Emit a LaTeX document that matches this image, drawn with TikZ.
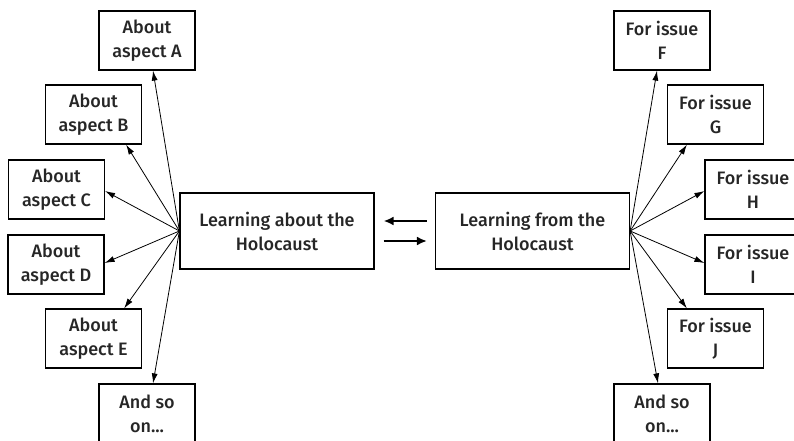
\documentclass[tikz,border=0pt]{standalone}
\usepackage{fontspec}
\setmainfont{Fira Sans}[UprightFont=* Medium]
\usetikzlibrary{positioning,arrows.meta,calc}

\begin{document}
\begin{tikzpicture}[x=1pt,y=-1pt,
    every node/.style={font=\fontsize{18}{24}\selectfont, align=center, text=black!85},
    aspectbox/.style={draw, rectangle, line width=1.2pt, minimum width=96pt, minimum height=59pt, inner sep=0pt},
    mainbox/.style={draw, rectangle, line width=1.2pt, minimum width=194pt, minimum height=76pt, inner sep=0pt},
    fan/.style={-{Latex[length=10pt,width=6pt]}, line width=0.8pt},
    swap/.style={-{Latex[length=10pt,width=9pt]}, line width=2.2pt}]
    \clip (0,0) rectangle (794,441);
    % central boxes
    \node[mainbox](learnabout) at (277,231){Learning about the\\Holocaust};
    \node[mainbox](learnfrom) at (532.5,231){Learning from the\\Holocaust};
    \draw[swap]($(learnfrom.west)+(-8,-10)$)--($(learnabout.east)+(9,-10)$);
    \draw[swap]($(learnabout.east)+(9,10)$)--($(learnfrom.west)+(-8,10)$);
    % aspects on the left
    \node[aspectbox](aspecta) at (147,40.5){About\\aspect A};
    \node[aspectbox](aspectb) at (93.5,114.5){About\\aspect B};
    \node[aspectbox](aspectc) at (56.5,189.5){About\\aspect C};
    \node[aspectbox](aspectd) at (56,264.5){About\\aspect D};
    \node[aspectbox](aspecte) at (93.5,338.5){About\\aspect E};
    \node[aspectbox](aboutmore) at (147,413.5){And so\\on...};
    \draw[fan](learnabout.west)--($(aspecta.south)+(6,0)$);
    \draw[fan](learnabout.west)--($(aspectb.south east)+(-16,0)$);
    \draw[fan](learnabout.west)--($(aspectc.east)+(0,1.5)$);
    \draw[fan](learnabout.west)--($(aspectd.east)+(0,-1.5)$);
    \draw[fan](learnabout.west)--($(aspecte.north east)+(-18,0)$);
    \draw[fan](learnabout.west)--($(aboutmore.north)+(6,0)$);
    % issues on the right
    \node[aspectbox](issuef) at (662,40.5){For issue\\F};
    \node[aspectbox](issueg) at (715.5,114.5){For issue\\G};
    \node[aspectbox](issueh) at (753,189.5){For issue\\H};
    \node[aspectbox](issuei) at (753,264.5){For issue\\I};
    \node[aspectbox](issuej) at (715.5,338.5){For issue\\J};
    \node[aspectbox](frommore) at (662,413.5){And so\\on...};
    \draw[fan](learnfrom.east)--($(issuef.south)+(-5,0)$);
    \draw[fan](learnfrom.east)--($(issueg.south west)+(20,0)$);
    \draw[fan](learnfrom.east)--($(issueh.west)+(0,1.5)$);
    \draw[fan](learnfrom.east)--($(issuei.west)+(0,-1.5)$);
    \draw[fan](learnfrom.east)--($(issuej.north west)+(20,0)$);
    \draw[fan](learnfrom.east)--($(frommore.north)+(-4,0)$);
\end{tikzpicture}
\end{document}
